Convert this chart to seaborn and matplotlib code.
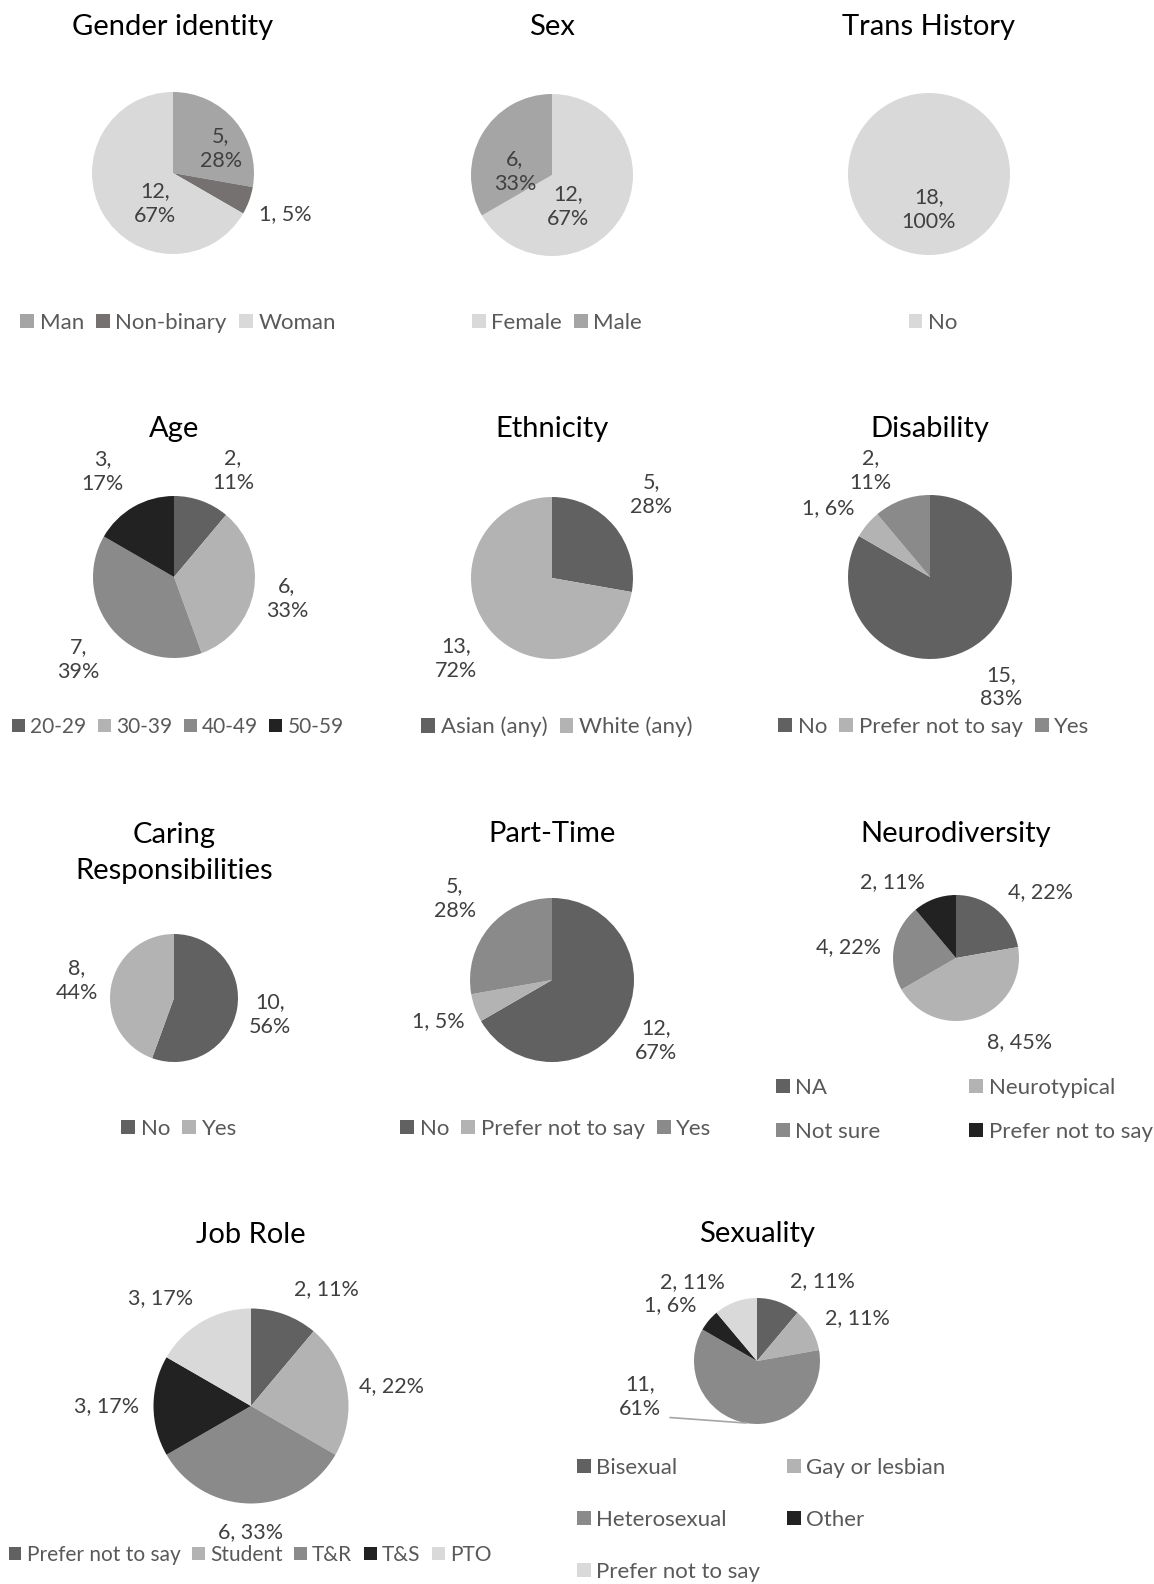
import matplotlib
matplotlib.use("Agg")
import matplotlib.pyplot as plt
from matplotlib.patches import Patch
import numpy as np
import seaborn as sns

# ---- data ----
gender_cats = ["Man", "Non-binary", "Woman"]
gender_counts = [5, 1, 12]
gender_pcts = ["28%", "5%", "67%"]

sex_cats = ["Female", "Male"]
sex_counts = [12, 6]
sex_pcts = ["67%", "33%"]

trans_cats = ["No"]
trans_counts = [18]
trans_pcts = ["100%"]

age_cats = ["20-29", "30-39", "40-49", "50-59"]
age_counts = [2, 6, 7, 3]
age_pcts = ["11%", "33%", "39%", "17%"]

eth_cats = ["Asian (any)", "White (any)"]
eth_counts = [5, 13]
eth_pcts = ["28%", "72%"]

dis_cats = ["No", "Prefer not to say", "Yes"]
dis_counts = [15, 1, 2]
dis_pcts = ["83%", "6%", "11%"]

care_cats = ["No", "Yes"]
care_counts = [10, 8]
care_pcts = ["56%", "44%"]

pt_cats = ["No", "Prefer not to say", "Yes"]
pt_counts = [12, 1, 5]
pt_pcts = ["67%", "5%", "28%"]

neuro_cats = ["NA", "Neurotypical", "Not sure", "Prefer not to say"]
neuro_counts = [4, 8, 4, 2]
neuro_pcts = ["22%", "45%", "22%", "11%"]

job_cats = ["Prefer not to say", "Student", "T&R", "T&S", "PTO"]
job_counts = [2, 4, 6, 3, 3]
job_pcts = ["11%", "22%", "33%", "17%", "17%"]

sexu_cats = ["Bisexual", "Gay or lesbian", "Heterosexual", "Other", "Prefer not to say"]
sexu_counts = [2, 2, 11, 1, 2]
sexu_pcts = ["11%", "11%", "61%", "6%", "11%"]

# ---- styling ----
sns.set_theme(style="white")
plt.rcParams["font.family"] = ["Lato", "DejaVu Sans"]

DARK, LIGHT, MID, BLACK, PALE = "#616161", "#b3b3b3", "#8a8a8a", "#222222", "#d9d9d9"
MAN, NB = "#a5a5a5", "#767171"
LABEL_C, LEGEND_C = "#404040", "#595959"
TITLE_FS, LABEL_FS, LEGEND_FS = 21, 15.5, 16

W, H = 1154, 1584
fig = plt.figure(figsize=(W / 100, H / 100), dpi=100)
fig.patch.set_facecolor("white")


def fx(x):
    return x / W


def fy(y):
    return 1 - y / H


def draw_pie(title, cats, counts, pcts, colors, center, radius, title_pos,
             dists, wraps, legend_pos, angles=None, ncol=None, legend_order=None,
             leader=None, colspacing=0.55, rowspacing=0.5, legend_loc="center",
             legend_fs=LEGEND_FS):
    cx, cy = center
    ax = fig.add_axes([fx(cx - radius), fy(cy + radius), 2 * radius / W, 2 * radius / H])
    wedges, _ = ax.pie(counts, colors=colors, startangle=90, counterclock=False,
                       radius=1, wedgeprops=dict(linewidth=0))
    ax.set_xlim(-1, 1)
    ax.set_ylim(-1, 1)
    ax.axis("off")

    for i, w in enumerate(wedges):
        mid = (w.theta1 + w.theta2) / 2
        ang = mid if angles is None or angles[i] is None else angles[i]
        a = np.deg2rad(ang)
        d = dists[i]
        sep = "\n" if wraps[i] else " "
        txt = f"{counts[i]},{sep}{pcts[i]}"
        if leader is not None and leader == i:
            m = np.deg2rad(mid)
            ax.annotate(txt, xy=(np.cos(m), np.sin(m)), xytext=(d * np.cos(a), d * np.sin(a)),
                        ha="center", va="center", fontsize=LABEL_FS, color=LABEL_C,
                        linespacing=1.3, annotation_clip=False,
                        arrowprops=dict(arrowstyle="-", color="#a6a6a6", lw=1.2,
                                        shrinkA=4, shrinkB=0, relpos=(1, 0.05)))
        else:
            ax.text(d * np.cos(a), d * np.sin(a), txt, ha="center", va="center",
                    fontsize=LABEL_FS, color=LABEL_C, linespacing=1.3, clip_on=False)

    fig.text(fx(title_pos[0]), fy(title_pos[1]), title, ha="center", va="baseline",
             fontsize=TITLE_FS, color="black", linespacing=1.5)

    order = legend_order if legend_order is not None else list(range(len(cats)))
    handles = [Patch(facecolor=colors[i], edgecolor="none") for i in order]
    labels = [cats[i] for i in order]
    fig.legend(handles, labels, loc=legend_loc,
               bbox_to_anchor=(fx(legend_pos[0]), fy(legend_pos[1])),
               ncol=ncol if ncol else len(cats), frameon=False, fontsize=legend_fs,
               handlelength=0.62, handleheight=0.62, handletextpad=0.25,
               columnspacing=colspacing, labelspacing=rowspacing,
               borderpad=0, borderaxespad=0, labelcolor=LEGEND_C)


# row 1
draw_pie("Gender identity", gender_cats, gender_counts, gender_pcts, [MAN, NB, PALE],
         (173, 173), 81, (173, 35), [0.66, 1.47, 0.44], [True, False, True], (178, 323),
         angles=[27, None, -121])
draw_pie("Sex", sex_cats, sex_counts, sex_pcts, [PALE, MAN],
         (552, 175), 81, (552, 35), [0.44, 0.46], [True, True], (557, 323),
         angles=[-63, 175])
draw_pie("Trans History", trans_cats, trans_counts, trans_pcts, [PALE],
         (929, 174), 81, (929, 35), [0.44], [True], (933, 323))

# row 2
draw_pie("Age", age_cats, age_counts, age_pcts, [DARK, LIGHT, MID, BLACK],
         (174, 577), 81, (174, 437), [1.5, 1.42, 1.56, 1.57], [True] * 4, (178, 727),
         angles=[61, -11, -139, 124], legend_fs=15)
draw_pie("Ethnicity", eth_cats, eth_counts, eth_pcts, [DARK, LIGHT],
         (552, 578), 81, (552, 437), [1.6, 1.54], [True, True], (557, 727))
draw_pie("Disability", dis_cats, dis_counts, dis_pcts, [DARK, LIGHT, MID],
         (930, 577), 82, (930, 437), [1.6, 1.5, 1.49], [True, False, True], (934, 727),
         angles=[-57, 146, 119])

# row 3
draw_pie("Caring\nResponsibilities", care_cats, care_counts, care_pcts, [DARK, LIGHT],
         (174, 998), 64, (174, 879), [1.52, 1.54], [True, True], (179, 1129))
draw_pie("Part-Time", pt_cats, pt_counts, pt_pcts, [DARK, LIGHT, MID],
         (552, 980), 82, (552, 842), [1.47, 1.48, 1.55], [True, False, True], (556, 1129))
draw_pie("Neurodiversity", neuro_cats, neuro_counts, neuro_pcts, [DARK, LIGHT, MID, BLACK],
         (956, 958), 63, (956, 842), [1.7, 1.68, 1.72, 1.58], [False] * 4, (776, 1110),
         angles=[38, -53, 174, 130], ncol=2, legend_order=[0, 2, 1, 3],
         colspacing=4.0, rowspacing=1.08, legend_loc="center left")

# row 4
draw_pie("Job Role", job_cats, job_counts, job_pcts, [DARK, LIGHT, MID, BLACK, PALE],
         (251, 1406), 97.5, (251, 1243), [1.43, 1.46, 1.29, 1.48, 1.45], [False] * 5,
         (250, 1555), angles=[57, 8, -90, 180, 130], legend_fs=15)
draw_pie("Sexuality", sexu_cats, sexu_counts, sexu_pcts, [DARK, LIGHT, MID, BLACK, PALE],
         (757, 1361), 63, (757, 1242), [1.64, 1.73, 1.94, 1.64, 1.62],
         [False, False, True, False, False], (577, 1520),
         angles=[51, 23, 197, 147, 129.5], ncol=2, legend_order=[0, 2, 4, 1, 3],
         colspacing=1.2, rowspacing=1.44, leader=2, legend_loc="center left")

fig.savefig("out.png", dpi=100, facecolor="white")
